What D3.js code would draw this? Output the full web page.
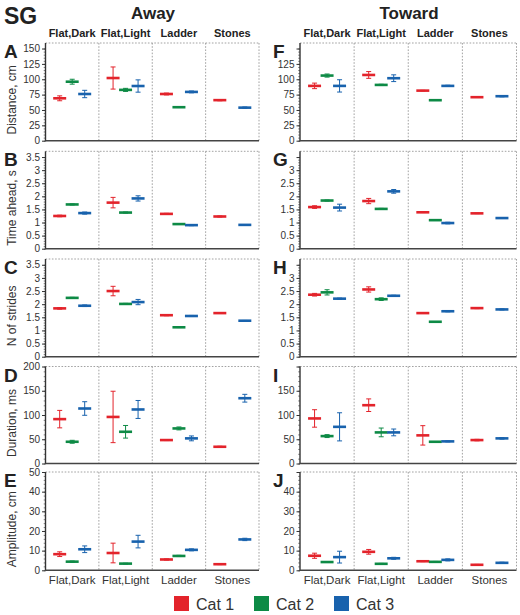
<!DOCTYPE html>
<html><head><meta charset="utf-8">
<script src="https://cdn.jsdelivr.net/npm/d3@7"></script>
<style>
html,body{margin:0;padding:0;background:#fff;}
svg{display:block;font-family:"Liberation Sans",Arial,sans-serif;}
</style></head>
<body><svg id="chart" width="520" height="615"></svg>
<script>
// ---------- DATA ----------
const categories = ["Flat,Dark", "Flat,Light", "Ladder", "Stones"];
const seriesNames = ["Cat 1", "Cat 2", "Cat 3"];
const seriesColors = ["#e3232b", "#0d8a45", "#1862ad"];

// each array: rows = series (Cat 1, Cat 2, Cat 3), columns = categories
// A: Distance, cm (Away)
const distAwayMean = [[69, 102, 76, 66], [96, 82.7, 54.5, null], [76, 89, 79.4, 53.8]];
const distAwayErr  = [[4, 18, 1.5, 1], [4, 2.5, 0.5, null], [6, 10, 1.5, 1]];
// F: Distance, cm (Toward)
const distTowMean  = [[89.2, 107, 81.5, 70.8], [106, 90.8, 65.9, null], [89.2, 101.7, 89.2, 72.4]];
const distTowErr   = [[4.5, 5.5, 0.5, 0.5], [2.5, 1, 0.5, null], [10, 5.5, 1, 1]];
// B: Time ahead, s (Away)
const timeAwayMean = [[1.25, 1.76, 1.33, 1.23], [1.69, 1.38, 0.94, null], [1.36, 1.92, 0.9, 0.91]];
const timeAwayErr  = [[0.03, 0.2, 0.02, 0.02], [0.02, 0.02, 0.01, null], [0.04, 0.1, 0.02, 0.01]];
// G: Time ahead, s (Toward)
const timeTowMean  = [[1.59, 1.82, 1.39, 1.35], [1.84, 1.52, 1.09, null], [1.57, 2.19, 0.98, 1.17]];
const timeTowErr   = [[0.05, 0.1, 0.01, 0.01], [0.02, 0.02, 0.01, null], [0.13, 0.07, 0.03, 0.01]];
// C: N of strides (Away)
const strAwayMean  = [[1.84, 2.5, 1.58, 1.66], [2.24, 2.01, 1.12, null], [1.94, 2.08, 1.55, 1.37]];
const strAwayErr   = [[0.03, 0.18, 0.02, 0.01], [0.02, 0.02, 0.01, null], [0.03, 0.1, 0.02, 0.01]];
// H: N of strides (Toward)
const strTowMean   = [[2.36, 2.56, 1.66, 1.85], [2.45, 2.19, 1.33, null], [2.21, 2.32, 1.73, 1.8]];
const strTowErr    = [[0.05, 0.1, 0.01, 0.02], [0.1, 0.05, 0.01, null], [0.02, 0.02, 0.02, 0.02]];
// D: Duration, ms (Away)
const durAwayMean  = [[91.5, 96, 48.3, 34.5], [44.8, 65.4, 72.3, null], [113.4, 111.4, 51.8, 134.6]];
const durAwayErr   = [[18, 53, 1, 1], [3, 13, 3, null], [14, 18.5, 5, 8]];
// I: Duration, ms (Toward)
const durTowMean   = [[92.9, 120.2, 58, 48.3], [56.5, 64.1, 44.8, null], [75.6, 64.1, 45.6, 51.8]];
const durTowErr    = [[18, 13, 20, 1.5], [3, 9, 0.5, null], [29, 7, 1, 1.5]];
// E: Amplitude, cm (Away)
const ampAwayMean  = [[8.2, 8.8, 5.5, 3.1], [4.4, 3.4, 7.3, null], [10.7, 14.6, 10.4, 15.7]];
const ampAwayErr   = [[1.2, 5, 0.3, 0.2], [0.3, 0.2, 0.3, null], [1.7, 3.2, 0.5, 0.6]];
// J: Amplitude, cm (Toward)
const ampTowMean   = [[7.4, 9.4, 4.6, 2.8], [4.2, 3.3, 4.3, null], [6.7, 6.1, 5.3, 3.8]];
const ampTowErr    = [[1.3, 1.2, 0.2, 0.2], [0.2, 0.2, 0.2, null], [3, 0.5, 0.5, 0.3]];

// tick values
const ticksDist = [0, 25, 50, 75, 100, 125, 150];
const ticksTime = [0, 0.5, 1, 1.5, 2, 2.5, 3, 3.5];
const ticksDur  = [0, 50, 100, 150, 200];
const ticksAmp  = [0, 10, 20, 30, 40, 50];

// ---------- LAYOUT ----------
const svg = d3.select("#chart");
const cols = [
  {x0: 45.5, x1: 259, title: "Away", titleX: 153},
  {x0: 300, x1: 516.5, title: "Toward", titleX: 409}
];
const rows = [
  {top: 43,    bottom: 140.7, max: 159,  ticks: ticksDist, minor: 5,   label: "Distance, cm",  letters: ["A","F"], data: [[distAwayMean, distAwayErr],[distTowMean, distTowErr]]},
  {top: 151.3, bottom: 248.7, max: 3.72, ticks: ticksTime, minor: 0.1, label: "Time ahead, s", letters: ["B","G"], data: [[timeAwayMean, timeAwayErr],[timeTowMean, timeTowErr]]},
  {top: 259,   bottom: 356.7, max: 3.72, ticks: ticksTime, minor: 0.1, label: "N of strides",  letters: ["C","H"], data: [[strAwayMean, strAwayErr],[strTowMean, strTowErr]]},
  {top: 366.5, bottom: 463.5, max: 200,  ticks: ticksDur,  minor: 10,  label: "Duration, ms",  letters: ["D","I"], data: [[durAwayMean, durAwayErr],[durTowMean, durTowErr]]},
  {top: 472,   bottom: 570.3, max: 50,   ticks: ticksAmp,  minor: 2,   label: "Amplitude, cm", letters: ["E","J"], data: [[ampAwayMean, ampAwayErr],[ampTowMean, ampTowErr]]}
];

// headers
svg.append("text").attr("x", 4).attr("y", 24).attr("font-size", 23).attr("font-weight", "bold").attr("fill", "#222").text("SG");
cols.forEach((c, ci) => {
  svg.append("text").attr("x", c.titleX).attr("y", 19).attr("text-anchor", "middle")
    .attr("font-size", 17).attr("font-weight", "bold").attr("fill", "#222").text(c.title);
  const xb = d3.scaleBand().domain(categories).range([c.x0, c.x1]);
  categories.forEach(cat => {
    svg.append("text").attr("x", xb(cat) + xb.bandwidth() / 2).attr("y", 36.5)
      .attr("text-anchor", "middle").attr("font-size", 11).attr("font-weight", "bold").attr("fill", "#222").text(cat);
  });
});

rows.forEach((r, ri) => {
  cols.forEach((c, ci) => {
    const g = svg.append("g");
    const x = d3.scaleBand().domain(categories).range([c.x0, c.x1]);
    const sub = d3.scalePoint().domain(seriesNames).range([-12.5, 12.5]);
    const y = d3.scaleLinear().domain([0, r.max]).range([r.bottom, r.top]);

    // dotted frame: top, right, dividers
    const dotted = (x1, y1, x2, y2) => g.append("line").attr("x1", x1).attr("y1", y1).attr("x2", x2).attr("y2", y2)
      .attr("stroke", "#8a8a8a").attr("stroke-width", 0.8).attr("stroke-dasharray", "1.6,1.6");
    dotted(c.x0, r.top, c.x1, r.top);
    dotted(c.x1, r.top, c.x1, r.bottom);
    categories.slice(1).forEach(cat => dotted(x(cat), r.top, x(cat), r.bottom));

    // minor ticks
    const minorVals = d3.range(0, r.ticks[r.ticks.length - 1] + r.minor / 2, r.minor);
    g.append("g").attr("transform", `translate(${c.x0},0)`)
      .call(d3.axisLeft(y).tickValues(minorVals).tickSize(1.8).tickFormat(""))
      .call(a => a.select(".domain").remove())
      .selectAll("line").attr("stroke", "#333").attr("stroke-width", 0.6);

    // major axis
    const topTick = r.ticks[r.ticks.length - 1];
    const ax = g.append("g").attr("transform", `translate(${c.x0},0)`)
      .call(d3.axisLeft(y).tickValues(r.ticks).tickSize(3.5).tickSizeOuter(0).tickPadding(2)
        .tickFormat(d => (ci === 1 && d === topTick) ? "" : String(d)));
    ax.select(".domain").remove();
    ax.selectAll("line").attr("stroke", "#333").attr("stroke-width", 1);
    ax.selectAll("text").attr("font-size", 10).attr("fill", "#333").attr("font-family", "'Liberation Sans',Arial,sans-serif");

    // solid axis lines
    g.append("line").attr("x1", c.x0).attr("x2", c.x0).attr("y1", r.top).attr("y2", r.bottom + 0.5)
      .attr("stroke", "#333").attr("stroke-width", 1.4);
    g.append("line").attr("x1", c.x0).attr("x2", c.x1).attr("y1", r.bottom).attr("y2", r.bottom)
      .attr("stroke", "#444").attr("stroke-width", 1.6);

    // panel letter
    svg.append("text").attr("x", ci === 0 ? 4 : 273).attr("y", r.top + 15)
      .attr("font-size", 19).attr("font-weight", "bold").attr("fill", "#222").text(r.letters[ci]);

    // y title
    if (ci === 0) {
      svg.append("text").attr("transform", `translate(16,${(r.top + r.bottom) / 2 + 8}) rotate(-90)`)
        .attr("text-anchor", "middle").attr("font-size", 12).attr("fill", "#333").text(r.label);
    }

    // data marks
    const [means, errs] = r.data[ci];
    seriesNames.forEach((s, si) => {
      categories.forEach((cat, k) => {
        const m = means[si][k];
        if (m == null) return;
        const e = errs[si][k];
        const cx = x(cat) + x.bandwidth() / 2 + sub(s);
        const col = seriesColors[si];
        const mg = g.append("g");
        // error bar
        mg.append("line").attr("x1", cx).attr("x2", cx).attr("y1", y(m - e)).attr("y2", y(m + e))
          .attr("stroke", col).attr("stroke-width", 1);
        [m - e, m + e].forEach(v => mg.append("line").attr("x1", cx - 2.5).attr("x2", cx + 2.5)
          .attr("y1", y(v)).attr("y2", y(v)).attr("stroke", col).attr("stroke-width", 1));
        // mean bar
        mg.append("line").attr("x1", cx - 6.5).attr("x2", cx + 6.5).attr("y1", y(m)).attr("y2", y(m))
          .attr("stroke", col).attr("stroke-width", 2.6);
      });
    });

    // bottom category labels
    if (ri === rows.length - 1) {
      categories.forEach(cat => {
        svg.append("text").attr("x", x(cat) + x.bandwidth() / 2).attr("y", 584)
          .attr("text-anchor", "middle").attr("font-size", 11.5).attr("fill", "#333").text(cat);
      });
    }
  });
});

// legend
const legX = d3.scalePoint().domain(seriesNames).range([174, 334]);
seriesNames.forEach((s, i) => {
  svg.append("rect").attr("x", legX(s)).attr("y", 596).attr("width", 15).attr("height", 15).attr("fill", seriesColors[i]);
  svg.append("text").attr("x", legX(s) + 22).attr("y", 610).attr("font-size", 16).attr("fill", "#333").text(s);
});
</script></body></html>
